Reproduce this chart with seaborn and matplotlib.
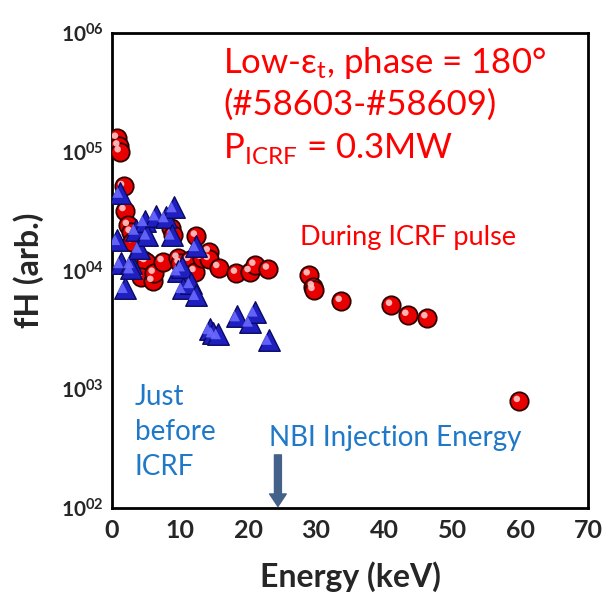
import numpy as np
import pandas as pd
import matplotlib
matplotlib.use('Agg')
import matplotlib.pyplot as plt
import matplotlib.transforms as mtransforms
import seaborn as sns

# --- data ---
red_energy = [0.8, 1.0, 1.2, 1.7, 1.9, 2.4, 2.8, 3.0, 4.6, 5.0, 4.3, 6.0, 6.2, 7.5,
              8.7, 9.0, 9.7, 10.0, 11.4, 12.2, 12.4, 13.2, 14.3, 14.3, 15.7, 18.3,
              20.3, 21.0, 23.0, 29.0, 29.6, 29.7, 33.7, 41.1, 43.5, 46.3, 59.9]
red_fh = [1.30e5, 1.12e5, 1.00e5, 5.1e4, 3.2e4, 2.4e4, 2.1e4, 1.75e4, 1.22e4, 1.19e4,
          8.9e3, 8.1e3, 9.5e3, 1.19e4, 2.3e4, 2.0e4, 1.27e4, 1.15e4, 1.22e4, 9.8e3,
          1.95e4, 1.27e4, 1.44e4, 1.24e4, 1.06e4, 9.5e3, 9.8e3, 1.11e4, 1.03e4,
          9.2e3, 7.3e3, 6.8e3, 5.5e3, 5.1e3, 4.2e3, 4.0e3, 7.9e2]

blue_energy = [1.2, 0.8, 1.3, 1.9, 2.8, 2.8, 3.5, 4.0, 4.8, 5.2, 6.5, 7.9, 9.1, 8.8,
               9.7, 10.4, 10.3, 11.6, 12.4, 12.4, 14.4, 14.9, 15.6, 18.4, 20.3, 21.0, 23.1]
blue_fh = [4.5e4, 1.8e4, 1.15e4, 7.1e3, 1.15e4, 1.04e4, 2.2e4, 1.55e4, 2.6e4, 2.0e4,
           2.9e4, 2.8e4, 3.4e4, 2.0e4, 1.0e4, 7.1e3, 1.08e4, 7.8e3, 6.2e3, 1.6e4,
           3.2e3, 3.0e3, 2.9e3, 4.1e3, 3.7e3, 4.5e3, 2.6e3]

xticks = [0, 10, 20, 30, 40, 50, 60, 70]
ytick_exp = [2, 3, 4, 5, 6]
nbi_energy = 24.4

sns.set_style('white')
plt.rcParams['font.family'] = ['Lato', 'DejaVu Sans']
plt.rcParams['mathtext.fontset'] = 'custom'
plt.rcParams['mathtext.rm'] = 'Lato'
plt.rcParams['mathtext.bf'] = 'Lato:bold'

red_df = pd.DataFrame({'E': red_energy, 'fH': red_fh})
blue_df = pd.DataFrame({'E': blue_energy, 'fH': blue_fh})

fig = plt.figure(figsize=(6.14, 5.94), dpi=100)
ax = fig.add_axes([0.1824, 0.1448, 0.7753, 0.7996])


def shine(coll, dx, dy):
    # shift highlight marks a few pixels up-left for a 3D look
    coll.set_offset_transform(mtransforms.offset_copy(ax.transData, fig=fig, x=dx, y=dy, units='dots'))


# red spheres (during ICRF)
sns.scatterplot(data=red_df, x='E', y='fH', ax=ax, marker='o', s=175,
                color='#e80000', edgecolor='#300000', linewidth=1.3, zorder=3, legend=False)
sns.scatterplot(data=red_df, x='E', y='fH', ax=ax, marker='o', s=22,
                color='#ffc8c8', edgecolor='none', alpha=0.9, zorder=3.1, legend=False)
shine(ax.collections[-1], -2.5, 2.5)
# blue triangles (before ICRF)
sns.scatterplot(data=blue_df, x='E', y='fH', ax=ax, marker='^', s=240,
                color='#1f1fc0', edgecolor='#0a0a60', linewidth=1.0, zorder=4, legend=False)
sns.scatterplot(data=blue_df, x='E', y='fH', ax=ax, marker='^', s=60,
                color='#6a6aff', edgecolor='none', alpha=0.9, zorder=4.1, legend=False)
shine(ax.collections[-1], -2.5, 0.5)

ax.set_yscale('log')
ax.set_xlim(0, 70)
ax.set_ylim(1e2, 1e6)
ax.set_xticks(xticks)
ax.set_xticklabels([str(t) for t in xticks], fontsize=18, fontweight='bold')
ax.set_xticks(np.arange(0, 71, 2), minor=True)
ax.set_yticks([10.0 ** e for e in ytick_exp])
ax.set_yticklabels([r'$\mathbf{10^{0%d}}$' % e for e in ytick_exp], fontsize=15)
ax.tick_params(axis='both', which='major', direction='in', length=10, width=1.5,
               top=False, right=False, pad=6)
ax.tick_params(axis='both', which='minor', direction='in', length=5, width=1.2,
               top=False, right=False)
ax.tick_params(axis='x', which='major', pad=8)
for sp in ax.spines.values():
    sp.set_linewidth(2)
    sp.set_color('black')

ax.set_xlabel('Energy (keV)', fontsize=23, fontweight='bold', labelpad=14)
ax.set_ylabel('fH (arb.)', fontsize=23, fontweight='bold', labelpad=12)

red = '#ff0000'
blue = '#1f78c8'
ax.text(0.233, 0.936, r'Low-$\mathrm{\varepsilon_t}$, phase = 180°', transform=ax.transAxes,
        color=red, fontsize=25, va='center', ha='left')
ax.text(0.233, 0.848, '(#58603-#58609)', transform=ax.transAxes,
        color=red, fontsize=25, va='center', ha='left')
ax.text(0.233, 0.757, r'P$_{\mathrm{ICRF}}$ = 0.3MW', transform=ax.transAxes,
        color=red, fontsize=25, va='center', ha='left')
ax.text(0.394, 0.57, 'During ICRF pulse', transform=ax.transAxes,
        color=red, fontsize=19.5, va='center', ha='left')
ax.text(0.048, 0.16, 'Just\nbefore\nICRF', transform=ax.transAxes,
        color=blue, fontsize=20, va='center', ha='left', linespacing=1.45)
ax.text(0.33, 0.147, 'NBI Injection Energy', transform=ax.transAxes,
        color=blue, fontsize=20, va='center', ha='left')

ax.annotate('', xy=(nbi_energy, 1.03e2), xytext=(nbi_energy, 2.8e2),
            arrowprops=dict(facecolor='#44618a', edgecolor='#44618a',
                            width=5, headwidth=12, headlength=9))

fig.savefig('out.png', dpi=100)
